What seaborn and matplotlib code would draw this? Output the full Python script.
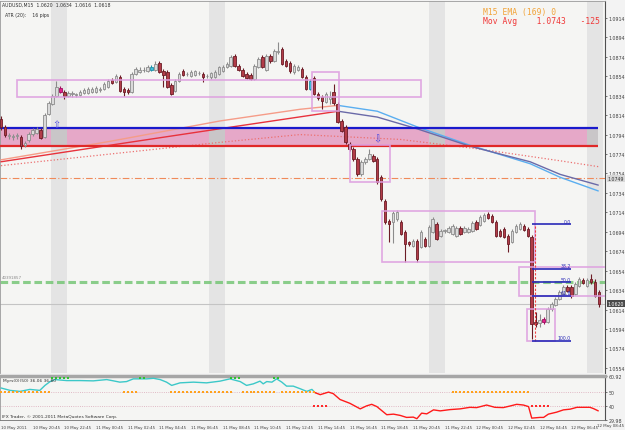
import matplotlib
matplotlib.use('Agg')
import matplotlib.pyplot as plt
from matplotlib import font_manager
import seaborn as sns
import pandas as pd
from matplotlib.patches import Rectangle

sns.set_style('white')
plt.rcParams['font.family'] = ['DejaVu Sans']
try:
    font_manager.findfont('Liberation Sans Narrow', fallback_to_default=False)
    small_font = 'Liberation Sans Narrow'
    small_size = 3.4
except ValueError:
    small_font = 'DejaVu Sans'
    small_size = 2.9

# AUDUSD M15 candles, bar 0 = 10 May 18:45
opens = [
    1.0810, 1.0802, 1.0793, 1.0791, 1.0793, 1.0791, 1.0783, 1.0788, 1.0795, 1.0796,
    1.0799, 1.0791, 1.0815, 1.0825, 1.0834, 1.0842, 1.0838, 1.0834, 1.0836, 1.0835,
    1.0835, 1.0837, 1.0837, 1.0838, 1.0838, 1.0840, 1.0841, 1.0843, 1.0850, 1.0848,
    1.0853, 1.0841, 1.0840, 1.0838, 1.0856, 1.0858, 1.0860, 1.0859, 1.0860, 1.0860,
    1.0868, 1.0859, 1.0858, 1.0845, 1.0839, 1.0849, 1.0859, 1.0856, 1.0854, 1.0855,
    1.0857, 1.0856, 1.0854, 1.0853, 1.0853, 1.0856, 1.0859, 1.0864, 1.0865, 1.0875,
    1.0865, 1.0860, 1.0856, 1.0855, 1.0851, 1.0864, 1.0874, 1.0860, 1.0875, 1.0870,
    1.0879, 1.0882, 1.0870, 1.0868, 1.0858, 1.0860, 1.0861, 1.0853, 1.0841, 1.0852,
    1.0836, 1.0833, 1.0828, 1.0831, 1.0838, 1.0825, 1.0808, 1.0802, 1.0784, 1.0779,
    1.0769, 1.0753, 1.0766, 1.0769, 1.0772, 1.0769, 1.0750, 1.0726, 1.0705, 1.0704,
    1.0707, 1.0704, 1.0694, 1.0683, 1.0679, 1.0684, 1.0678, 1.0687, 1.0679, 1.0694,
    1.0702, 1.0690, 1.0695, 1.0694, 1.0692, 1.0690, 1.0698, 1.0694, 1.0694, 1.0695,
    1.0704, 1.0701, 1.0705, 1.0712, 1.0710, 1.0704, 1.0695, 1.0697, 1.0690, 1.0683,
    1.0694, 1.0697, 1.0700, 1.0697, 1.0689, 1.0601, 1.0600, 1.0604, 1.0601, 1.0615,
    1.0619, 1.0625, 1.0630, 1.0637, 1.0637, 1.0630, 1.0638, 1.0644, 1.0638, 1.0645,
    1.0642, 1.0632]
closes = [
    1.0802, 1.0794, 1.0793, 1.0793, 1.0793, 1.0782, 1.0785, 1.0795, 1.0799, 1.0800,
    1.0790, 1.0814, 1.0826, 1.0834, 1.0843, 1.0838, 1.0834, 1.0837, 1.0836, 1.0835,
    1.0838, 1.0840, 1.0841, 1.0841, 1.0842, 1.0840, 1.0846, 1.0849, 1.0847, 1.0854,
    1.0839, 1.0838, 1.0838, 1.0856, 1.0861, 1.0860, 1.0860, 1.0864, 1.0864, 1.0867,
    1.0858, 1.0855, 1.0843, 1.0836, 1.0849, 1.0856, 1.0855, 1.0856, 1.0858, 1.0859,
    1.0857, 1.0853, 1.0854, 1.0857, 1.0858, 1.0864, 1.0864, 1.0867, 1.0874, 1.0865,
    1.0860, 1.0854, 1.0852, 1.0851, 1.0865, 1.0872, 1.0864, 1.0875, 1.0870, 1.0880,
    1.0879, 1.0867, 1.0865, 1.0859, 1.0865, 1.0864, 1.0853, 1.0841, 1.0849, 1.0836,
    1.0832, 1.0829, 1.0836, 1.0833, 1.0826, 1.0807, 1.0798, 1.0786, 1.0779, 1.0769,
    1.0753, 1.0766, 1.0769, 1.0774, 1.0767, 1.0745, 1.0728, 1.0704, 1.0702, 1.0713,
    1.0714, 1.0692, 1.0681, 1.0681, 1.0684, 1.0666, 1.0694, 1.0679, 1.0699, 1.0707,
    1.0687, 1.0695, 1.0695, 1.0698, 1.0700, 1.0698, 1.0692, 1.0698, 1.0697, 1.0703,
    1.0697, 1.0709, 1.0711, 1.0708, 1.0704, 1.0690, 1.0690, 1.0689, 1.0681, 1.0695,
    1.0700, 1.0702, 1.0696, 1.0690, 1.0599, 1.0599, 1.0603, 1.0601, 1.0615, 1.0620,
    1.0625, 1.0632, 1.0637, 1.0633, 1.0628, 1.0640, 1.0645, 1.0641, 1.0644, 1.0642,
    1.0628, 1.0620]
highs = [
    1.0813, 1.0804, 1.0796, 1.0795, 1.0796, 1.0794, 1.0787, 1.0797, 1.0801, 1.0802,
    1.0801, 1.0816, 1.0829, 1.0836, 1.0849, 1.0844, 1.0840, 1.0839, 1.0839, 1.0837,
    1.0840, 1.0842, 1.0843, 1.0843, 1.0844, 1.0843, 1.0848, 1.0851, 1.0852, 1.0856,
    1.0855, 1.0843, 1.0842, 1.0858, 1.0864, 1.0863, 1.0863, 1.0866, 1.0866, 1.0870,
    1.0870, 1.0861, 1.0860, 1.0847, 1.0851, 1.0858, 1.0861, 1.0858, 1.0860, 1.0860,
    1.0859, 1.0858, 1.0856, 1.0858, 1.0860, 1.0865, 1.0866, 1.0869, 1.0876, 1.0877,
    1.0867, 1.0862, 1.0858, 1.0857, 1.0867, 1.0874, 1.0876, 1.0877, 1.0877, 1.0882,
    1.0889, 1.0884, 1.0872, 1.0870, 1.0867, 1.0866, 1.0864, 1.0855, 1.0851, 1.0854,
    1.0838, 1.0835, 1.0838, 1.0839, 1.0846, 1.0828, 1.0810, 1.0804, 1.0786, 1.0781,
    1.0771, 1.0768, 1.0771, 1.0779, 1.0774, 1.0771, 1.0752, 1.0728, 1.0707, 1.0715,
    1.0716, 1.0706, 1.0696, 1.0685, 1.0687, 1.0687, 1.0696, 1.0689, 1.0701, 1.0709,
    1.0704, 1.0697, 1.0697, 1.0700, 1.0702, 1.0700, 1.0700, 1.0700, 1.0699, 1.0705,
    1.0706, 1.0711, 1.0713, 1.0714, 1.0712, 1.0706, 1.0697, 1.0699, 1.0692, 1.0697,
    1.0702, 1.0704, 1.0702, 1.0699, 1.0691, 1.0611, 1.0609, 1.0606, 1.0617, 1.0622,
    1.0627, 1.0634, 1.0639, 1.0639, 1.0639, 1.0642, 1.0647, 1.0646, 1.0646, 1.0651,
    1.0645, 1.0634]
lows = [
    1.0799, 1.0792, 1.0789, 1.0788, 1.0789, 1.0779, 1.0781, 1.0786, 1.0793, 1.0795,
    1.0789, 1.0790, 1.0814, 1.0824, 1.0833, 1.0837, 1.0831, 1.0833, 1.0833, 1.0833,
    1.0834, 1.0836, 1.0836, 1.0837, 1.0837, 1.0838, 1.0840, 1.0842, 1.0846, 1.0847,
    1.0838, 1.0834, 1.0836, 1.0837, 1.0855, 1.0857, 1.0858, 1.0858, 1.0859, 1.0859,
    1.0857, 1.0843, 1.0842, 1.0835, 1.0838, 1.0848, 1.0854, 1.0854, 1.0853, 1.0854,
    1.0855, 1.0848, 1.0852, 1.0851, 1.0852, 1.0855, 1.0858, 1.0862, 1.0864, 1.0864,
    1.0859, 1.0853, 1.0851, 1.0850, 1.0850, 1.0862, 1.0862, 1.0859, 1.0868, 1.0869,
    1.0877, 1.0866, 1.0864, 1.0857, 1.0856, 1.0859, 1.0852, 1.0840, 1.0840, 1.0835,
    1.0830, 1.0820, 1.0826, 1.0825, 1.0824, 1.0806, 1.0797, 1.0784, 1.0777, 1.0767,
    1.0751, 1.0751, 1.0764, 1.0768, 1.0766, 1.0743, 1.0726, 1.0702, 1.0683, 1.0682,
    1.0705, 1.0691, 1.0663, 1.0679, 1.0678, 1.0663, 1.0677, 1.0678, 1.0678, 1.0693,
    1.0686, 1.0689, 1.0693, 1.0693, 1.0691, 1.0689, 1.0691, 1.0693, 1.0693, 1.0694,
    1.0696, 1.0700, 1.0704, 1.0707, 1.0703, 1.0689, 1.0689, 1.0688, 1.0673, 1.0682,
    1.0693, 1.0696, 1.0695, 1.0689, 1.0584, 1.0596, 1.0596, 1.0599, 1.0600, 1.0612,
    1.0618, 1.0624, 1.0629, 1.0632, 1.0626, 1.0629, 1.0637, 1.0640, 1.0637, 1.0640,
    1.0627, 1.0617]
magenta_bars = [15, 137]
cyan_bars = [38, 78]

# moving averages (bar index, price)
ma1_up_x = [0, 27.5, 55.3, 75.5, 85.1]
ma1_up = [1.0768, 1.0787, 1.0808, 1.0820, 1.0824]
ma1_dn_x = [85.1, 95, 105, 118.4, 133.6, 141.2, 150.8]
ma1_dn = [1.0824, 1.0818, 1.0802, 1.0783, 1.0764, 1.0750, 1.0736]
ma2_up_x = [0, 27.5, 55.3, 85.1]
ma2_up = [1.0766, 1.0783, 1.0800, 1.0818]
ma2_dn_x = [85.1, 95, 105, 118.4, 133.6, 141.2, 150.8]
ma2_dn = [1.0818, 1.0812, 1.0800, 1.0782, 1.0766, 1.0753, 1.0742]
ma3_x = [0, 55.3, 75.5, 100.8, 121, 141.2, 150.8]
ma3 = [1.0762, 1.0786, 1.0794, 1.0789, 1.0779, 1.0767, 1.0761]

# zone, levels, boxes
zone_top, zone_bot, zone_end = 1.0801, 1.0782, 150.8
session_bands = [(12.6, 16.6), (52.5, 56.5), (108.1, 112.1), (148.0, 152.0)]
ema_level = 1.0749
green_level = 1.0642
last_price = 1.0620
boxes = [  # (bar start, bar end, low, high)
    (4.0, 106.1, 1.0833, 1.0850),
    (78.5, 85.4, 1.0818, 1.0858),
    (88.1, 98.2, 1.0745, 1.0783),
    (96.2, 134.9, 1.0663, 1.0715),
    (130.8, 153.0, 1.0628, 1.0658),
    (132.8, 140.0, 1.0582, 1.0615),
]
fib_labels = ['0.0', '38.2', '50.0', '61.8', '100.0']
fib_prices = [1.0702, 1.0656, 1.0642, 1.0628, 1.0582]
fib_start, fib_end = 134.0, 143.9

# indicator panel
rsi_up_x = [0, 2.3, 4.8, 7.3, 9.8, 11.1, 12.4, 13.6, 16.6, 20, 23.3, 26.7, 28.4, 30, 31.7,
            33.4, 36.8, 38.5, 40.2, 41.8, 43.1, 45.2, 48.6, 51.9, 55.3, 57.8, 60.4, 62,
            63.7, 65.4, 66.2, 67.1, 68.4, 69.6, 70.9, 72.1, 73.8, 75.5, 77.2, 78.5, 79.3]
rsi_up = [52.5, 50.8, 50.1, 51.5, 50.8, 54.3, 57.0, 58.4, 57.7, 57.7, 57.5, 58.4, 57.5, 56.6,
          57.0, 58.9, 58.9, 59.3, 58.4, 56.6, 54.3, 56.1, 56.6, 56.1, 57.3, 58.9, 57.0, 54.3,
          55.4, 57.3, 55.4, 57.0, 56.6, 58.9, 56.6, 53.8, 53.8, 52.0, 50.1, 51.5, 49.2]
rsi_dn_x = [79.3, 80.6, 82.7, 83.9, 85.6, 88.1, 90.7, 92.3, 93.6, 94.9, 97.4, 99.1, 100.8,
            102.4, 104.1, 105, 106.2, 107.5, 109.2, 110.9, 113.4, 115.9, 118.4, 120.1, 122.6,
            124.7, 126.8, 128.5, 130.2, 131.9, 133.2, 134, 136.1, 137, 138.2, 140.3, 142,
            143.7, 145.4, 148.7, 149.6, 150.8]
rsi_dn = [49.2, 47.8, 49.6, 48.5, 44.4, 41.7, 37.8, 39.9, 41.0, 39.4, 33.7, 34.1, 33.2, 31.8,
          32.0, 30.9, 34.8, 34.3, 37.1, 36.4, 37.3, 37.8, 38.9, 38.7, 40.5, 38.9, 38.7, 39.8,
          41.0, 40.5, 39.4, 31.3, 31.8, 31.8, 34.1, 35.5, 37.1, 37.6, 38.9, 38.9, 38.0, 36.4]
orange_runs = [(0, 12), (31, 34), (43, 58), (61, 69), (71, 79), (114, 133)]
red_runs = [(79, 82), (134, 138)]
green_runs = [(13, 17), (35, 36), (58, 60), (69, 70)]

price_ticks = [1.0914, 1.0894, 1.0874, 1.0854, 1.0834, 1.0814, 1.0794, 1.0774, 1.0754, 1.0734,
               1.0714, 1.0694, 1.0674, 1.0654, 1.0634, 1.0614, 1.0594, 1.0574, 1.0554]
time_ticks = [0, 8, 16, 24, 32, 40, 48, 56, 64, 72, 80, 88, 96, 104, 112, 120, 128, 136, 144, 152]
time_labels = ['10 May 2011', '10 May 20:45', '10 May 22:45', '11 May 00:45', '11 May 02:45',
               '11 May 04:45', '11 May 06:45', '11 May 08:45', '11 May 10:45', '11 May 12:45',
               '11 May 14:45', '11 May 16:45', '11 May 18:45', '11 May 20:45', '11 May 22:45',
               '12 May 00:45', '12 May 02:45', '12 May 04:45', '12 May 06:45', '12 May 08:45']

W, H = 625, 431


def box(x0, y0, x1, y1):
    return [x0 / W, 1 - y1 / H, (x1 - x0) / W, (y1 - y0) / H]


fig = plt.figure(figsize=(6.25, 4.31), dpi=100)
fig.patch.set_facecolor('#f3f3f3')
ax = fig.add_axes(box(0, 2, 605, 374))
ax2 = fig.add_axes(box(0, 377, 605, 421))
bg = '#f5f5f3'
for a in (ax, ax2):
    a.set_facecolor(bg)
    a.set_xlim(-0.25, 152.5)
ax.set_ylim(1.05487, 1.09314)
ax2.set_ylim(29.98, 60.92)

# session shading and the red/blue zone
for s, e in session_bands:
    ax.axvspan(s, e, color='#e4e4e4', lw=0, zorder=0.2)
ax.fill_between([-0.25, zone_end], zone_bot, zone_top, color='#e6a8c8', lw=0, zorder=1)
for s, e in session_bands:
    ax.add_patch(Rectangle((s, zone_bot), min(e, zone_end) - s, zone_top - zone_bot,
                           color='#c9c6c8', lw=0, zorder=1.1))
ax.hlines(zone_bot + 0.00012, -0.25, zone_end, color='#7a8a7a', lw=0.7, ls=(0, (2, 2)), zorder=1.2)
ax.hlines(zone_top, -0.25, zone_end, color='#1a1acc', lw=1.6, zorder=3)
ax.hlines(zone_bot, -0.25, zone_end, color='#e02828', lw=1.6, zorder=3)

# horizontal levels
ax.axhline(ema_level, color='#f08a5a', lw=0.8, dashes=(6, 2, 1, 2), zorder=2)
ax.axhline(green_level, color='#70c470', lw=2.2, dashes=(2.5, 1.2), alpha=0.8, zorder=2)
ax.axhline(last_price, color='#c4c4c4', lw=0.8, zorder=2)

# moving averages
sns.lineplot(x=ma3_x, y=ma3, ax=ax, color='#ec7070', lw=0.9, ls=':', zorder=2.5)
sns.lineplot(x=ma1_up_x, y=ma1_up, ax=ax, color='#f59c88', lw=1.0, zorder=2.6)
sns.lineplot(x=ma2_up_x, y=ma2_up, ax=ax, color='#e8323c', lw=1.0, zorder=2.6)
sns.lineplot(x=ma1_dn_x, y=ma1_dn, ax=ax, color='#5aaef0', lw=1.0, zorder=2.6)
sns.lineplot(x=ma2_dn_x, y=ma2_dn, ax=ax, color='#6a6aa8', lw=1.0, zorder=2.6)

# candles
df = pd.DataFrame({'o': opens, 'h': highs, 'l': lows, 'c': closes})
df['i'] = range(len(df))
bull = df['c'] >= df['o']
face = ['#dadada' if b else '#b23c48' for b in bull]
edge = ['#8c8c8c' if b else '#6c1c26' for b in bull]
for i in magenta_bars:
    face[i], edge[i] = '#e4208a', '#a01060'
for i in cyan_bars:
    face[i], edge[i] = '#40bcd8', '#2090a8'
ax.vlines(df['i'], df['l'], df['h'], colors=edge, lw=0.8, zorder=4)
body = (df['c'] - df['o']).abs().clip(lower=0.00005)
ax.bar(df['i'], body, bottom=df[['o', 'c']].min(axis=1), width=0.62,
       color=face, edgecolor=edge, lw=0.6, zorder=5)

# boxes
for x0, x1, lo, hi in boxes:
    ax.add_patch(Rectangle((x0, lo), x1 - x0, hi - lo, fill=False, ec='#de9fe0',
                           lw=1.2, alpha=0.9, zorder=6, clip_on=True))

# fibonacci
ax.vlines(fib_start + 0.8, fib_prices[-1], fib_prices[0], color='#f04040', lw=0.8,
          ls=(0, (2, 1.5)), zorder=6)
for lab, p in zip(fib_labels, fib_prices):
    ax.hlines(p, fib_start, fib_end, color='#2a2ab8', lw=1.2, zorder=7)
    ax.text(fib_end, p + 0.00005, lab, fontsize=small_size + 0.4, family=small_font,
            color='#2a2ab8', ha='right', va='bottom', zorder=7)

# arrows
ax.text(14.1, 1.0805, '\u21e7', fontsize=7, color='#4848e0', ha='center', va='center', zorder=7)
ax.text(95.0, 1.0790, '\u21e9', fontsize=7, color='#4848e0', ha='center', va='center', zorder=7)

# price axis
ax.yaxis.tick_right()
ax.set_yticks(price_ticks)
ax.set_yticklabels([f'{p:.4f}' for p in price_ticks], family=small_font)
ax.tick_params(axis='y', labelsize=small_size + 0.5, length=1.5, width=0.5, pad=1.2, colors='#404040')
ax.tick_params(axis='x', bottom=False, labelbottom=False)
ax.set_xlabel('')
ax.set_ylabel('')
for sp in ('left', 'top'):
    ax.spines[sp].set_color('#9a9a9a')
    ax.spines[sp].set_linewidth(0.6)
ax.spines['bottom'].set_visible(False)
ax.spines['right'].set_color('#505050')
ax.spines['right'].set_linewidth(0.8)

# price tags on the axis
ax.text(1.004, ema_level, '1.0749', transform=ax.get_yaxis_transform(), fontsize=small_size + 0.5,
        family=small_font, color='#303030', va='center', ha='left',
        bbox=dict(boxstyle='square,pad=0.15', fc='#d8d8d8', ec='none'))
ax.text(1.004, last_price, '1.0620', transform=ax.get_yaxis_transform(), fontsize=small_size + 0.5,
        family=small_font, color='white', va='center', ha='left',
        bbox=dict(boxstyle='square,pad=0.15', fc='#4a4a4a', ec='none'))

# indicator panel
for lvl in (60, 50, 40):
    ax2.axhline(lvl, color='#d9a6b6', lw=0.6, ls=':', zorder=1)
sns.lineplot(x=rsi_up_x, y=rsi_up, ax=ax2, color='#3cc8c8', lw=1.0, zorder=3)
sns.lineplot(x=rsi_dn_x, y=rsi_dn, ax=ax2, color='#ff1a1a', lw=1.0, zorder=3)
for runs, lvl, col in ((orange_runs, 50, '#ffa21c'), (red_runs, 40, '#ff2a2a'),
                       (green_runs, 59.6, '#30c030')):
    xs = [i for a, b in runs for i in range(a, b + 1)]
    sns.scatterplot(x=xs, y=[lvl] * len(xs), ax=ax2, color=col, marker='s', s=3,
                    linewidth=0, zorder=4)
ax2.yaxis.tick_right()
ax2.set_yticks([60.92, 50, 40, 29.98])
ax2.set_yticklabels(['60.92', '50', '40', '29.98'], family=small_font)
ax2.tick_params(axis='y', labelsize=small_size + 0.5, length=1.5, width=0.5, pad=1.2, colors='#404040')
ax2.set_xticks(time_ticks)
# last date label is placed by hand so it stays inside the picture
ax2.set_xticklabels(time_labels[:-1] + [''], ha='left', family=small_font)
ax2.tick_params(axis='x', labelsize=small_size, length=2, width=0.5, pad=1.5, colors='#404040')
fig.text(624 / W, 1 - 426.5 / H, time_labels[-1], ha='right', va='center',
         fontsize=small_size, family=small_font, color='#404040')
ax2.set_xlabel('')
ax2.set_ylabel('')
ax2.spines['top'].set_color('#a6a6a6')
ax2.spines['top'].set_linewidth(2.5)
ax2.spines['left'].set_color('#9a9a9a')
ax2.spines['left'].set_linewidth(0.6)
ax2.spines['bottom'].set_color('#707070')
ax2.spines['bottom'].set_linewidth(0.6)
ax2.spines['right'].set_color('#505050')
ax2.spines['right'].set_linewidth(0.8)

# texts
fig.text(2 / W, 1 - 5 / H, 'AUDUSD,M15  1.0620  1.0634  1.0616  1.0618', fontsize=small_size + 0.4,
         family=small_font, color='#303030', va='center')
fig.text(5 / W, 1 - 16 / H, 'ATR (20):    16 pips', fontsize=small_size + 0.4, family=small_font,
         color='#303030', va='center')
fig.text(483 / W, 1 - 12 / H, 'M15 EMA (169) 0', fontsize=5.8, color='#f2a43a',
         family='DejaVu Sans Mono', va='center')
fig.text(483 / W, 1 - 22 / H, 'Mov Avg    1.0743   -125', fontsize=5.8, color='#f03838',
         family='DejaVu Sans Mono', va='center')
fig.text(2 / W, 1 - 278 / H, '40391857', fontsize=small_size, family=small_font,
         color='#8a8a8a', va='center')
fig.text(3 / W, 1 - 381 / H, 'Myrs(0)(50) 36.06 36.80', fontsize=small_size + 0.3,
         family=small_font, color='#303030', va='center')
fig.text(2 / W, 1 - 417 / H, 'IFX Trader, \u00a9 2001-2011 MetaQuotes Software Corp.',
         fontsize=small_size + 0.3, family=small_font, color='#303030', va='center')

fig.savefig('out.png', dpi=100, facecolor=fig.get_facecolor())
